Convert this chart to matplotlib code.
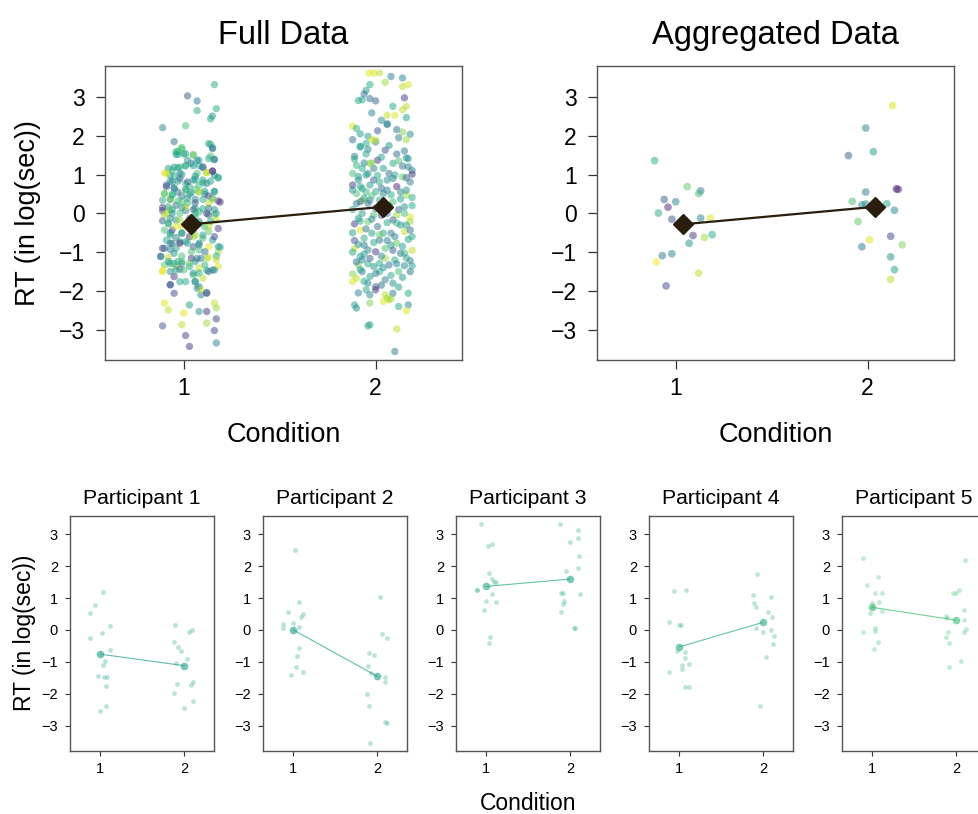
import numpy as np
import matplotlib
matplotlib.use("Agg")
import matplotlib.pyplot as plt

plt.rcParams['font.family'] = ['Liberation Sans', 'DejaVu Sans']

# ---------------- data ----------------
# full data: (jittered condition, RT, colour position on viridis)
full_c1 = [
    (1.16, 3.32, .6), (1.02, 3.03, .3), (1.07, 2.90, .4), (1.07, 2.65, .6), (1.17, 2.70, .6),
    (1.14, 2.44, .55), (1.15, 2.51, .55), (0.89, 2.21, .45), (1.01, 2.26, .7), (0.95, 1.85, .35),
    (1.14, 1.78, .6), (1.15, 1.69, .4), (0.96, 1.59, .65), (0.99, 1.70, .7), (0.97, 1.52, .6),
    (1.00, 1.53, .55), (1.05, 1.50, .75), (1.14, 1.48, .7), (1.16, 1.39, .45), (0.90, 1.04, .95),
    (0.92, 1.16, .55), (0.94, 1.11, .65), (0.97, 1.18, .6), (1.01, 1.23, .7), (1.04, 1.29, .4),
    (1.08, 1.23, .6), (1.10, 1.18, .35), (1.12, 1.05, .9), (1.15, 1.09, .15), (1.18, 0.92, .6),
    (0.91, 0.73, .35), (0.94, 0.81, .5), (0.98, 0.90, .25), (1.05, 0.86, .55), (1.01, 0.77, .65),
    (1.10, 0.86, .55), (1.12, 0.77, .4), (0.90, 0.51, .75), (0.94, 0.47, .6), (0.97, 0.55, .35),
    (1.01, 0.60, .7), (1.04, 0.53, .5), (1.08, 0.56, .85), (1.11, 0.50, .45), (1.16, 0.56, .6),
    (1.19, 0.29, .15), (0.89, 0.34, .6), (0.93, 0.36, .9), (0.96, 0.21, .35), (0.99, 0.30, .7),
    (1.02, 0.39, .5), (1.06, 0.27, .25), (1.10, 0.36, .6), (1.13, 0.26, .9), (0.89, 0.07, .2),
    (0.91, 0.00, .95), (0.94, 0.09, .55), (0.98, 0.00, .7), (1.01, 0.07, .4), (1.08, 0.04, .65),
    (1.12, 0.00, .1), (1.16, -0.04, .8), (0.89, -0.19, .3), (0.92, -0.26, .75), (0.96, -0.17, .5),
    (0.99, -0.34, .95), (1.08, -0.21, .45), (1.11, -0.34, .6), (1.18, -0.39, .15), (1.17, -0.17, .9),
    (0.90, -0.43, .7), (0.93, -0.51, .5), (0.96, -0.62, .4), (0.99, -0.51, .6), (1.03, -0.60, .1),
    (1.06, -0.56, .85), (1.10, -0.64, .7), (1.15, -0.69, .55), (0.94, -0.77, .35), (0.98, -0.73, .6),
    (1.05, -0.86, .25), (1.13, -0.86, .95), (1.19, -0.87, .55), (0.89, -0.90, .15), (0.93, -0.93, .4),
    (1.08, -0.94, .7), (1.18, -0.99, .85), (0.88, -1.11, .3), (0.92, -1.13, .9), (0.95, -1.03, .5),
    (0.99, -1.10, .7), (1.04, -1.16, .15), (1.09, -1.16, .35), (1.13, -1.13, .95), (1.17, -1.10, .6),
    (0.90, -1.33, .75), (0.93, -1.29, .55), (0.96, -1.37, .85), (0.99, -1.29, .4), (1.03, -1.37, .6),
    (1.08, -1.41, .9), (1.15, -1.46, .45), (0.89, -1.47, 1.0), (0.93, -1.50, .5), (0.98, -1.44, .25),
    (1.12, -1.47, .6), (1.18, -1.37, .95), (0.95, -1.63, .15), (1.01, -1.76, .6), (1.06, -1.76, .55),
    (1.08, -1.89, .4), (0.93, -1.84, .2), (0.95, -2.06, .2), (1.09, -2.10, .45), (1.12, -2.06, .15),
    (1.05, -1.59, .7), (0.90, -2.31, .95), (0.92, -2.49, .9), (1.03, -2.36, .55), (1.08, -2.53, .5),
    (1.00, -2.57, .95), (1.16, -2.31, .9), (1.17, -2.44, .85), (1.12, -2.53, .15), (0.89, -2.90, .25),
    (0.99, -2.87, .9), (1.12, -2.83, .85), (1.17, -2.72, .2), (1.01, -3.15, .2), (1.16, -3.02, .2),
    (1.03, -3.43, .15), (1.17, -3.34, .45),
    (0.92, 0.17, .6), (1.01, 0.17, .95), (1.06, 0.13, .55), (1.13, 0.13, .35), (1.03, -0.13, .4),
    (1.06, -0.09, .7), (1.14, -0.21, .6), (0.93, -0.13, .45), (0.98, -0.17, .85), (0.94, -0.43, .2),
    (1.05, -0.43, .55), (1.13, -0.47, .75), (1.01, -0.73, .5), (1.08, -0.77, .45), (0.91, -0.69, .6),
    (0.96, -0.90, .55), (1.04, -0.99, .7), (1.11, -0.99, .35), (0.97, -1.24, .6), (1.06, -1.24, .5),
    (1.11, -1.33, .65), (1.03, 0.69, .6), (0.95, 0.64, .45), (1.08, 0.73, .65), (1.15, 0.39, .55),
    (0.93, 0.98, .55), (1.07, 1.03, .7), (1.16, 0.98, .45), (0.98, 1.03, .4), (1.08, 1.37, .6),
    (1.02, 1.37, .5),
    (0.97, 1.60, .65), (0.99, 1.66, .7), (0.96, 1.52, .55), (1.01, 1.54, .6), (1.05, 1.52, .75),
    (1.13, 1.80, .6), (1.15, 1.67, .4), (1.13, 1.41, .6), (1.16, 1.39, .45), (1.07, 1.37, .45),
    (1.05, 1.23, .55), (1.01, 1.23, .6), (0.95, 1.19, .55), (0.98, 1.19, .6), (1.10, 1.20, .35),
    (0.91, 1.03, .95), (0.95, 0.96, .6), (0.99, 1.00, .55), (1.06, 0.96, .5), (1.12, 1.05, .9),
    (1.15, 1.09, .15), (1.18, 0.92, .6), (0.93, 0.83, .45), (0.97, 0.83, .5), (1.02, 0.81, .3),
    (1.06, 0.87, .55), (1.10, 0.79, .6), (1.14, 0.83, .55), (0.91, 0.69, .2), (0.95, 0.66, .45),
    (1.01, 0.62, .6), (1.06, 0.62, .7), (1.11, 0.57, .55), (1.16, 0.57, .5), (0.90, 0.51, .75),
    (0.94, 0.49, .65), (0.99, 0.45, .4), (1.03, 0.49, .6), (1.08, 0.55, .85), (1.13, 0.45, .2),
    (1.18, 0.32, .15), (0.93, 0.36, .55), (0.97, 0.32, .7), (1.02, 0.27, .65), (1.06, 0.36, .4),
    (1.15, 0.36, .85), (0.89, 0.15, .15), (0.93, 0.10, .75), (0.99, 0.15, .55), (1.05, 0.10, .3),
    (1.10, 0.12, .6), (1.16, 0.10, .5), (0.90, -0.04, .85), (0.94, 0.00, .5), (1.06, 0.00, .6),
    (1.13, -0.04, .35), (1.17, 0.00, .55), (0.92, -0.26, .55), (0.96, -0.33, .95), (1.08, -0.26, .6),
    (1.13, -0.34, .9), (0.93, -0.56, .6), (0.99, -0.51, .45), (1.05, -0.60, .85), (1.10, -0.56, .55),
    (1.16, -0.60, .2), (0.90, -0.90, .35), (0.93, -0.77, .4), (0.98, -0.77, .1), (1.02, -0.77, .6),
    (1.08, -0.81, .45), (1.18, -0.86, .55), (0.88, -1.11, .45), (0.92, -1.24, .55), (0.95, -1.29, .6),
    (0.99, -1.24, .7), (1.03, -1.29, .75), (1.07, -1.16, .4), (1.12, -1.16, .85), (1.17, -1.20, .9),
    (0.89, -1.50, .95), (0.96, -1.46, .6), (1.00, -1.46, .7), (1.05, -1.54, .55), (1.08, -1.54, .6),
    (1.13, -1.50, .35), (1.16, -1.46, .45), (0.98, -1.76, .6), (1.10, -1.67, .9), (1.06, -1.76, .5),
    (0.93, -1.84, .3), (1.07, -1.93, .45), (1.09, -1.97, .9), (1.12, -2.04, .35),
]
full_c2 = [
    (1.965, 3.62, .95), (1.99, 3.62, .95), (2.02, 3.62, .9), (2.08, 3.53, .4), (2.14, 3.49, .45),
    (1.97, 3.32, .6), (2.17, 3.32, .95), (2.05, 3.38, .85), (1.95, 3.17, .55), (2.14, 3.27, .9),
    (1.94, 3.08, .35), (1.91, 2.91, .6), (1.97, 2.96, .35), (2.00, 2.90, .3), (2.15, 2.98, .15),
    (2.16, 2.76, .9), (2.09, 2.76, .6), (1.98, 2.59, .45), (2.06, 2.53, .9), (2.10, 2.53, .95),
    (2.16, 2.47, .55), (2.06, 2.31, .4), (1.88, 2.25, .95), (1.90, 2.19, .6), (2.01, 2.13, .25),
    (2.11, 2.16, .35), (2.14, 2.10, .8), (2.18, 2.04, .45), (1.96, 1.99, .55), (1.88, 1.90, .35),
    (2.00, 1.84, .45), (2.00, 1.89, .9), (2.16, 1.90, .85), (1.92, 1.71, .55), (1.96, 1.65, .45),
    (2.05, 1.63, .25), (2.15, 1.61, .4), (1.89, 1.47, .4), (1.95, 1.53, .6), (2.11, 1.53, .35),
    (2.17, 1.41, .5), (2.01, 1.37, .15), (1.97, 1.29, .85), (2.09, 1.29, .6), (2.14, 1.22, .35),
    (1.90, 1.24, .65), (1.93, 1.16, .6), (1.99, 1.16, .4), (2.04, 1.16, .55), (2.19, 1.11, .45),
    (2.19, 1.01, .15), (1.88, 1.03, .7), (1.96, 1.03, .5), (2.07, 1.03, .35), (2.14, 0.94, .75),
    (1.91, 0.86, .45), (1.99, 0.86, .3), (2.02, 0.81, .6), (2.06, 0.86, .5), (2.18, 0.81, .4),
    (1.88, 0.73, .15), (1.93, 0.64, .55), (2.11, 0.69, .1), (2.06, 0.60, .4), (2.00, 0.56, .6),
    (1.90, 0.51, .7), (2.16, 0.47, .85), (2.19, 0.41, .6), (2.13, 0.37, .55), (1.93, 0.34, .9),
    (1.92, 0.30, .3), (1.96, 0.26, .35), (2.02, 0.34, .6), (2.09, 0.30, .7), (2.15, 0.17, .5),
    (1.88, 0.10, .6), (1.93, 0.00, .55), (1.99, -0.04, .7), (2.06, 0.00, .4), (2.11, -0.04, .85),
    (2.18, -0.09, .95), (1.89, -0.27, .15), (1.96, -0.21, .75), (2.01, -0.34, .35), (2.06, -0.24, .6),
    (2.13, -0.30, .5), (2.18, -0.21, .85), (1.92, -0.43, .95), (1.98, -0.51, .55), (2.08, -0.51, .4),
    (2.15, -0.47, .9), (2.18, -0.43, .35), (1.89, -0.70, .25), (1.94, -0.64, .6), (2.02, -0.69, .35),
    (2.11, -0.77, .75), (2.17, -0.67, .55), (1.89, -0.90, .9), (1.96, -0.94, .45), (2.00, -0.99, .15),
    (2.05, -0.90, .7), (2.13, -1.03, .35), (1.92, -1.11, .55), (1.97, -1.16, .3), (2.05, -1.16, .85),
    (2.10, -1.20, .6), (2.18, -1.22, .4), (1.91, -1.33, .8), (1.99, -1.37, .5), (2.07, -1.33, .35),
    (2.15, -1.35, .45), (1.93, -1.50, .4), (2.02, -1.50, .6), (2.12, -1.50, .7), (2.18, -1.50, .35),
    (1.88, -1.56, .8), (1.90, -1.67, .9), (1.97, -1.63, .55), (2.05, -1.71, .4), (1.88, -1.76, .95),
    (1.96, -1.80, .45), (2.00, -1.89, .25), (2.09, -1.80, .5), (1.95, -1.97, .6), (2.00, -1.97, .15),
    (2.17, -2.06, .6), (2.09, -2.06, .4), (1.97, -2.10, .45), (2.05, -2.10, .9), (2.06, -2.19, .85),
    (2.04, -2.27, .95), (2.07, -2.23, .9), (1.97, -2.31, .8), (1.89, -2.36, .55), (1.90, -2.44, .5),
    (2.12, -2.40, .6), (2.17, -2.36, .45), (2.16, -2.51, .95), (1.96, -2.90, .55), (1.97, -2.87, .6),
    (2.11, -2.98, .9), (2.10, -3.56, .4),
    (1.97, 0.34, .45), (2.00, 0.13, .35), (2.03, 0.17, .6), (1.91, -0.13, .5), (2.09, -0.17, .3),
    (2.15, 0.00, .7), (1.94, 0.39, .55), (2.04, -0.51, .6), (1.94, -0.82, .4), (2.08, -0.82, .55),
    (2.15, -1.03, .65), (2.02, -1.29, .6), (1.93, -1.20, .45), (1.92, 0.69, .6), (1.97, 0.73, .55),
    (2.04, 0.51, .45), (2.16, 0.60, .5), (1.95, 0.99, .55), (2.10, 0.99, .6),
    (1.89, 1.40, .6), (1.94, 1.30, .45), (2.03, 1.45, .55), (2.12, 1.35, .7), (2.17, 1.20, .4),
    (1.91, 0.95, .55), (2.01, 0.98, .6), (2.09, 0.90, .45), (2.16, 0.92, .3), (1.88, 0.60, .5),
    (1.95, 0.55, .65), (2.03, 0.65, .35), (2.08, 0.48, .6), (2.13, 0.55, .45), (1.90, 0.25, .45),
    (1.98, 0.45, .7), (2.07, 0.20, .55), (2.12, 0.10, .35), (2.19, 0.20, .6), (1.92, -0.20, .6),
    (1.98, -0.15, .45), (2.03, -0.05, .3), (2.11, -0.25, .65), (2.16, -0.30, .55), (1.88, -0.50, .55),
    (1.95, -0.40, .35), (2.02, -0.55, .75), (2.10, -0.60, .45), (2.19, -0.60, .6), (1.91, -0.80, .5),
    (1.99, -0.75, .6), (2.06, -0.70, .4), (2.14, -0.85, .55), (2.19, -0.95, .9), (1.88, -1.00, .6),
    (1.94, -1.05, .55), (2.03, -1.10, .45), (2.09, -0.95, .3), (2.16, -1.15, .6), (1.90, -1.25, .35),
    (1.96, -1.30, .6), (2.04, -1.40, .5), (2.11, -1.30, .45), (2.19, -1.35, .55), (1.92, -1.45, .55),
    (2.00, -1.55, .4), (2.08, -1.60, .6), (2.14, -1.65, .5), (1.94, -1.75, .6), (2.03, -1.85, .35),
    (2.12, -1.90, .55), (1.91, -2.05, .45), (2.08, -2.20, .85), (1.95, 1.80, .6), (2.07, 1.75, .5),
    (2.12, 1.95, .4), (1.92, 2.05, .55), (2.03, 2.40, .45), (1.93, 2.93, .6), (2.14, 2.67, .9),
    (2.06, 2.29, .45), (1.98, 1.90, .9), (1.92, 1.73, .55), (2.16, 1.43, .5), (1.98, 1.30, .8),
]

# aggregated data: one mean per participant and condition
agg_c1 = [
    (0.89, 1.36, .6), (0.94, 0.36, .3), (0.91, 0.01, .6), (0.96, 0.16, .1), (1.00, 0.30, .45),
    (0.98, -0.15, .25), (1.06, 0.69, .75), (1.13, 0.58, .4), (1.12, 0.51, .7), (1.13, -0.12, .45),
    (1.18, -0.12, .95), (1.09, -0.57, .15), (1.15, -0.62, .85), (1.19, -0.55, .6), (1.07, -0.77, .5),
    (0.98, -1.04, .45), (0.93, -1.09, .4), (0.90, -1.25, 1.0), (1.12, -1.54, .9), (0.95, -1.87, .2),
]
agg_c2 = [
    (2.13, 2.78, .95), (1.99, 2.20, .45), (2.03, 1.59, .55), (1.90, 1.49, .3), (1.99, 0.55, .4),
    (2.15, 0.63, .05), (2.16, 0.62, .1), (1.92, 0.31, .7), (1.97, 0.22, .5), (1.99, 0.24, .45),
    (2.10, 0.25, .6), (2.14, 0.08, .45), (1.95, -0.21, .75), (2.01, -0.68, .95), (1.97, -0.86, .4),
    (2.12, -0.59, .2), (2.18, -0.81, .8), (2.12, -1.12, .5), (2.14, -1.45, .55), (2.12, -1.70, .9),
]
cond_means = [-0.28, 0.17]

# single participants: (jittered condition, RT)
part_c1 = [
    [(0.88, 0.52), (0.94, 0.77), (1.03, 1.20), (0.88, -0.26), (1.11, 0.14), (1.02, -0.09),
     (1.12, -0.63), (1.06, -0.96), (1.03, -1.10), (0.97, -1.43), (1.04, -1.49), (1.08, -1.49),
     (1.07, -1.76), (1.07, -2.38), (0.99, -2.53)],
    [(0.88, 0.18), (0.88, 0.05), (0.94, 0.57), (1.00, 0.23), (1.02, 2.51), (1.07, 0.89),
     (1.09, 0.41), (1.12, 0.49), (1.07, 0.10), (1.07, -0.58), (1.04, -0.82), (1.03, -1.17),
     (0.97, -1.42), (1.11, -1.31)],
    [(0.94, 3.32), (1.02, 2.65), (1.07, 2.71), (1.03, 1.79), (1.07, 1.60), (1.09, 1.52),
     (1.11, 1.52), (0.89, 1.26), (0.885, 1.25), (1.07, 1.12), (1.00, 0.91), (1.11, 0.87),
     (0.97, 0.62), (1.04, -0.23), (1.03, -0.40)],
    [(0.94, 1.23), (1.08, 1.26), (0.88, 0.25), (1.00, 0.16), (1.02, 0.16), (0.97, -0.65),
     (1.07, -0.70), (1.07, -0.89), (1.03, -1.10), (1.03, -1.23), (1.12, -1.07), (0.88, -1.32),
     (1.07, -1.80), (1.11, -1.80)],
    [(0.89, 2.26), (0.94, 1.41), (1.07, 1.65), (1.03, 1.16), (1.11, 1.16), (1.08, 0.89),
     (0.99, 0.84), (0.97, 0.54), (1.11, 0.59), (1.00, 0.73), (0.89, -0.05), (1.03, 0.07),
     (1.03, -0.04), (1.07, -0.39), (1.02, -0.61)],
]
part_c2 = [
    [(1.89, 0.17), (1.88, -0.38), (1.93, -0.54), (1.96, -0.66), (1.90, -1.05), (2.04, -0.91),
     (2.06, -0.05), (2.10, 0.00), (1.91, -1.71), (1.88, -1.97), (2.00, -2.44), (2.08, -1.73),
     (2.11, -1.62), (2.11, -2.23)],
    [(2.04, 1.05), (2.06, -0.13), (2.12, -0.26), (1.90, -0.73), (1.96, -0.79), (1.89, -1.12),
     (1.93, -1.34), (2.09, -1.48), (2.10, -1.62), (1.88, -2.02), (1.90, -2.39), (2.10, -2.88),
     (2.12, -2.93), (1.91, -3.54)],
    [(1.88, 3.32), (2.10, 3.13), (2.10, 2.90), (2.00, 2.75), (2.11, 2.32), (2.09, 1.95),
     (1.95, 1.85), (1.89, 1.15), (1.91, 1.15), (2.12, 1.13), (1.93, 0.92), (1.91, 0.82),
     (1.89, 0.57), (2.05, 0.06), (2.055, 0.05)],
    [(1.93, 1.75), (1.88, 1.10), (1.89, 0.84), (1.91, 0.72), (2.09, 1.05), (2.06, 0.58),
     (2.11, 0.41), (2.10, 0.01), (1.91, 0.05), (2.00, -0.06), (2.13, -0.18), (2.12, -0.44),
     (2.04, -0.86), (1.96, -2.40)],
    [(2.11, 2.20), (1.96, 1.17), (2.03, 1.25), (2.00, 1.15), (2.09, 0.63), (1.88, 0.45),
     (1.89, 0.38), (2.10, 0.30), (1.90, -0.06), (1.88, -0.23), (1.92, -0.41), (2.12, 0.03),
     (2.09, -0.06), (2.06, -0.96), (1.91, -1.17)],
]
part_means = [(-0.76, -1.12), (0.00, -1.45), (1.37, 1.60), (-0.53, 0.24), (0.71, 0.31)]
part_colour = [0.56, 0.56, 0.6, 0.62, 0.68]
part_names = ["Participant 1", "Participant 2", "Participant 3", "Participant 4", "Participant 5"]

ylab = "RT (in log(sec))"
W, H = 979, 814
cmap = plt.cm.viridis
mean_shift = 0.04
dark = "#2b1d0e"


def px_axes(fig, left, top, right, bottom):
    return fig.add_axes([left / W, 1 - bottom / H, (right - left) / W, (bottom - top) / H])


def frame(ax, big):
    for side in ["top", "right", "left", "bottom"]:
        ax.spines[side].set_color("#555555")
        ax.spines[side].set_linewidth(1.0)
    ax.set_yticks([-3, -2, -1, 0, 1, 2, 3])
    ax.set_xticks([1, 2])
    if big:
        ax.tick_params(axis="both", length=6.5, width=0.9, labelsize=16.5, color="#333333")
        ax.tick_params(axis="x", pad=6)
        ax.tick_params(axis="y", pad=8)
    else:
        ax.tick_params(axis="both", length=3.6, width=0.8, labelsize=10.5, color="#333333")
        ax.tick_params(axis="x", pad=4)
        ax.tick_params(axis="y", pad=5)


fig = plt.figure(figsize=(W / 100, H / 100), dpi=100)

# ---------------- top row ----------------
top_panels = [("Full Data", full_c1, full_c2, 105, 28), ("Aggregated Data", agg_c1, agg_c2, 597, 31)]
for title, c1, c2, left, size in top_panels:
    ax = px_axes(fig, left, 66, left + 357, 360)
    for pts in (c1, c2):
        a = np.array(pts)
        ax.scatter(a[:, 0], a[:, 1], s=size, c=cmap(a[:, 2]), alpha=0.5, linewidths=0)
    xm = np.array([1, 2]) + mean_shift
    ax.plot(xm, cond_means, color=dark, lw=1.6, zorder=4)
    ax.plot(xm, cond_means, ls="none", marker="D", ms=10.5, color=dark, zorder=5)
    ax.set_xlim(0.59, 2.45)
    ax.set_ylim(-3.78, 3.80)
    frame(ax, True)
    ax.set_title(title, fontsize=23.5, pad=16)
    fig.text((left + 178.5) / W, 1 - 435 / H, "Condition", fontsize=19.5, ha="center", va="center")

fig.text(28 / W, 1 - 213 / H, ylab, fontsize=19.5, rotation=90, ha="center", va="center")

# ---------------- bottom row ----------------
for i in range(5):
    left = 70 + 193 * i
    ax = px_axes(fig, left, 516, left + 144.4, 751)
    col = cmap(part_colour[i])
    for pts in (part_c1[i], part_c2[i]):
        a = np.array(pts)
        ax.scatter(a[:, 0], a[:, 1], s=12, color=col, alpha=0.3, linewidths=0)
    ax.plot([1, 2], part_means[i], color=col, lw=0.8, alpha=0.7)
    ax.scatter([1, 2], part_means[i], s=30, color=col, alpha=0.6, linewidths=0, zorder=4)
    ax.set_xlim(0.636, 2.363)
    ax.set_ylim(-3.80, 3.58)
    frame(ax, False)
    ax.set_title(part_names[i], fontsize=15.2, pad=9)

fig.text(25 / W, 1 - 633 / H, ylab, fontsize=16.5, rotation=90, ha="center", va="center")
fig.text(528 / W, 1 - 803 / H, "Condition", fontsize=16.5, ha="center", va="center")

fig.savefig("out.png", dpi=100)
